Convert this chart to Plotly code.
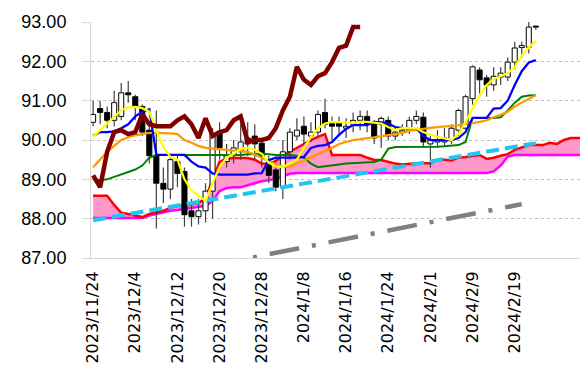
import plotly.graph_objects as go

# ---- tick labels (every 6th trading day) ----
tick_labels = ["2023/11/24", "2023/12/4", "2023/12/12", "2023/12/20", "2023/12/28",
               "2024/1/8", "2024/1/16", "2024/1/24", "2024/2/1", "2024/2/9", "2024/2/19"]
tick_step = 6

# ---- candles (trading day index 0..63) ----
open_ = [90.45, 90.80, 90.70, 90.50, 90.60, 91.20, 91.10, 90.85, 90.25, 89.60,
         88.90, 88.75, 89.45, 89.20, 88.20, 88.05, 88.20, 88.70, 90.20, 89.45,
         89.60, 89.70, 90.05, 90.10, 89.92, 89.44, 89.24, 88.80, 89.70, 90.10,
         90.35, 90.10, 90.20, 90.70, 90.45, 90.45, 90.30, 90.40, 90.50, 90.60,
         90.43, 90.40, 90.50, 90.10, 90.20, 90.25, 90.50, 90.58, 89.90, 89.95,
         89.95, 90.00, 90.25, 90.30, 91.05, 91.78, 91.58, 91.40, 91.60, 91.60,
         91.98, 92.35, 92.36, 92.88]
high = [91.00, 91.00, 90.85, 91.25, 91.45, 91.50, 91.15, 90.90, 90.35, 90.75,
        89.30, 89.65, 89.60, 89.30, 88.50, 88.50, 88.90, 90.30, 90.45, 89.90,
        90.00, 90.40, 90.45, 90.40, 90.00, 89.60, 89.40, 90.00, 90.30, 90.55,
        90.60, 90.45, 90.75, 91.05, 90.60, 90.60, 90.55, 90.70, 90.75, 90.75,
        90.50, 90.60, 90.60, 90.35, 90.40, 90.60, 90.75, 90.70, 90.10, 90.25,
        90.30, 90.40, 90.80, 91.15, 91.90, 91.85, 91.65, 91.85, 91.85, 92.10,
        92.50, 92.50, 93.00, 92.92]
low = [90.35, 90.40, 90.30, 90.35, 90.50, 90.95, 90.50, 90.10, 89.40, 87.75,
       88.40, 88.50, 88.80, 87.80, 87.80, 87.85, 87.90, 88.00, 89.50, 89.30,
       89.40, 89.50, 89.60, 89.50, 89.30, 88.90, 88.70, 88.50, 89.50, 90.00,
       89.90, 89.95, 90.10, 90.30, 90.00, 90.10, 90.05, 90.20, 90.25, 90.20,
       89.90, 89.80, 90.00, 90.00, 90.10, 90.15, 90.40, 89.80, 89.30, 89.80,
       89.85, 89.90, 90.10, 90.20, 90.90, 91.10, 91.10, 91.25, 91.40, 91.50,
       91.80, 92.10, 92.20, 92.80]
close = [90.65, 90.70, 90.50, 90.95, 91.20, 91.15, 90.85, 90.20, 89.60, 88.90,
         88.75, 89.50, 89.15, 88.10, 88.05, 88.20, 88.70, 90.15, 89.80, 89.60,
         89.80, 89.95, 89.90, 89.90, 89.57, 89.10, 88.80, 89.70, 90.20, 90.25,
         90.15, 90.20, 90.65, 90.40, 90.35, 90.35, 90.35, 90.50, 90.60, 90.40,
         90.05, 90.55, 90.10, 90.20, 90.25, 90.50, 90.60, 89.95, 90.00, 90.00,
         90.05, 90.30, 90.75, 91.10, 91.86, 91.53, 91.40, 91.62, 91.70, 91.98,
         92.34, 92.40, 92.87, 92.87]
chikou_shift = 25

# ---- indicator lines (per trading day) ----
ma_yellow = [90.08, 90.25, 90.42, 90.58, 90.76, 90.83, 90.84, 90.81, 90.72, 90.25,
             89.82, 89.57, 89.50, 89.00, 88.72, 88.58, 88.45, 88.90, 89.31, 89.55,
             89.65, 89.78, 89.80, 89.75, 89.65, 89.42, 89.33, 89.31, 89.40, 89.50,
             89.80, 90.08, 90.30, 90.42, 90.46, 90.46, 90.45, 90.43, 90.46, 90.46,
             90.44, 90.42, 90.33, 90.25, 90.30, 90.30, 90.30, 90.20, 90.13, 90.08,
             90.04, 90.00, 90.15, 90.45, 90.80, 91.14, 91.40, 91.55, 91.62, 91.70,
             91.85, 92.15, 92.35, 92.52]
tenkan_blue = [90.10, 90.20, 90.20, 90.22, 90.30, 90.40, 90.60, 90.72, 90.78, 89.62,
               89.62, 89.62, 89.62, 89.62, 89.45, 89.33, 89.30, 89.15, 89.12, 89.12,
               89.12, 89.12, 89.12, 89.15, 89.16, 89.49, 89.55, 89.55, 89.55, 89.55,
               89.57, 89.80, 89.85, 89.87, 89.95, 90.13, 90.28, 90.38, 90.38, 90.38,
               90.46, 90.45, 90.42, 90.33, 90.30, 90.30, 90.30, 90.10, 90.00, 90.00,
               90.00, 90.00, 90.05, 90.20, 90.56, 90.56, 90.56, 90.80, 90.81, 91.00,
               91.40, 91.75, 91.97, 92.03]
kijun_green = [89.00, 88.98, 89.00, 89.06, 89.12, 89.20, 89.25, 89.35, 89.55, 89.62,
               89.62, 89.62, 89.62, 89.62, 89.62, 89.62, 89.62, 89.62, 89.62, 89.62,
               89.62, 89.62, 89.64, 89.65, 89.65, 89.64, 89.62, 89.62, 89.62, 89.60,
               89.55, 89.40, 89.31, 89.33, 89.36, 89.38, 89.40, 89.41, 89.42, 89.44,
               89.44, 89.50, 89.78, 89.82, 89.82, 89.82, 89.82, 89.82, 89.82, 89.83,
               89.84, 89.85, 89.87, 89.95, 90.56, 90.56, 90.56, 90.56, 90.58, 90.75,
               90.95, 91.10, 91.13, 91.14]
ma_orange = [89.31, 89.50, 89.70, 89.85, 90.00, 90.07, 90.12, 90.15, 90.18, 90.18,
             90.18, 90.17, 90.15, 90.00, 89.93, 89.85, 89.80, 89.78, 89.77, 89.75,
             89.73, 89.72, 89.70, 89.63, 89.55, 89.45, 89.38, 89.32, 89.33, 89.40,
             89.48, 89.55, 89.62, 89.70, 89.80, 89.90, 89.96, 90.00, 90.02, 90.04,
             90.07, 90.10, 90.12, 90.15, 90.18, 90.23, 90.26, 90.29, 90.31, 90.33,
             90.34, 90.36, 90.38, 90.40, 90.43, 90.46, 90.50, 90.58, 90.64, 90.72,
             90.85, 90.95, 91.05, 91.14]

# ---- cloud (leading spans, run ahead of the candles) ----
span_a_red = [88.58, 88.58, 88.58, 88.35, 88.15, 88.12, 88.08, 88.04, 88.12, 88.16,
              88.20, 88.28, 88.32, 88.33, 88.36, 88.40, 88.52, 89.00, 89.45, 89.52,
              89.54, 89.54, 89.54, 89.50, 89.40, 89.38, 89.47, 89.60, 89.70, 89.82,
              89.92, 90.00, 90.08, 90.15, 89.62, 89.62, 89.62, 89.62, 89.62, 89.55,
              89.49, 89.49, 89.45, 89.40, 89.38, 89.40, 89.41, 89.41, 89.41, 89.50,
              89.50, 89.48, 89.55, 89.57, 89.60, 89.62, 89.52, 89.55, 89.60, 89.64,
              89.75, 89.82, 89.87, 89.87, 89.87, 89.93, 89.90, 90.00, 90.05, 90.05,
              90.05]
span_b_magenta = [88.02, 88.02, 88.02, 88.02, 88.02, 88.02, 88.02, 88.02, 88.08, 88.12,
                  88.16, 88.20, 88.22, 88.25, 88.27, 88.30, 88.33, 88.45, 88.70, 88.78,
                  88.80, 88.80, 88.85, 88.90, 88.95, 88.98, 89.02, 89.08, 89.14, 89.16,
                  89.16, 89.16, 89.16, 89.16, 89.16, 89.16, 89.16, 89.16, 89.16, 89.16,
                  89.16, 89.16, 89.16, 89.16, 89.16, 89.16, 89.16, 89.16, 89.16, 89.16,
                  89.16, 89.16, 89.16, 89.16, 89.16, 89.16, 89.16, 89.20, 89.35, 89.58,
                  89.62, 89.62, 89.62, 89.62, 89.62, 89.62, 89.62, 89.62, 89.62, 89.62,
                  89.62]

# ---- trend lines (two end points each) ----
trend_cyan_x = [0, 63]
trend_cyan_y = [87.96, 89.92]
trend_gray_x = [0, 61]
trend_gray_y = [86.21, 88.37]

n = len(close)
days = list(range(n))
cloud_days = list(range(len(span_a_red)))

fig = go.Figure()

# cloud on the base axis (drawn underneath)
fig.add_trace(go.Scatter(x=cloud_days, y=span_b_magenta, mode="lines",
                         line=dict(color="#FF00FF", width=2.5), hoverinfo="skip"))
fig.add_trace(go.Scatter(x=cloud_days, y=span_a_red, mode="lines", fill="tonexty",
                         fillcolor="#FF99CC", line=dict(color="#FF0000", width=2.5),
                         hoverinfo="skip"))

# candle bodies
body_base = [min(o, c) for o, c in zip(open_, close)]
body_h = [max(abs(c - o), 0.025) for o, c in zip(open_, close)]
body_col = ["white" if c >= o else "black" for o, c in zip(open_, close)]
fig.add_trace(go.Bar(x=days, y=body_h, base=body_base, width=0.72, yaxis="y2",
                     marker=dict(color=body_col, line=dict(color="black", width=1))))

# wicks (outside of the bodies)
wx, wy = [], []
for i, (o, h, l, c) in enumerate(zip(open_, high, low, close)):
    wx += [i, i, None, i, i, None]
    wy += [l, min(o, c), None, max(o, c), h, None]
fig.add_trace(go.Scatter(x=wx, y=wy, mode="lines", yaxis="y2",
                         line=dict(color="#404040", width=1.2), hoverinfo="skip"))

# trend lines
fig.add_trace(go.Scatter(x=trend_gray_x, y=trend_gray_y, mode="lines", yaxis="y2",
                         line=dict(color="#808080", width=4.5, dash="30px,13px,4px,13px")))
fig.add_trace(go.Scatter(x=trend_cyan_x, y=trend_cyan_y, mode="lines", yaxis="y2",
                         line=dict(color="#22C4F2", width=4, dash="13px,6px")))

# indicator lines
fig.add_trace(go.Scatter(x=days, y=kijun_green, mode="lines", yaxis="y2",
                         line=dict(color="#008000", width=2)))
fig.add_trace(go.Scatter(x=days, y=ma_orange, mode="lines", yaxis="y2",
                         line=dict(color="#FF9900", width=2.25)))
fig.add_trace(go.Scatter(x=days, y=tenkan_blue, mode="lines", yaxis="y2",
                         line=dict(color="#0000FF", width=2.25)))
fig.add_trace(go.Scatter(x=days, y=ma_yellow, mode="lines", yaxis="y2",
                         line=dict(color="#FFFF00", width=2.25)))

# lagging span: close shifted back
chikou_x = [d - chikou_shift for d in days[chikou_shift:]]
fig.add_trace(go.Scatter(x=chikou_x, y=close[chikou_shift:], mode="lines", yaxis="y2",
                         line=dict(color="#800000", width=4.5)))

tick_pos = [i * tick_step for i in range(len(tick_labels))]

# the page body adds 8px around the figure, so the figure is 8px smaller
fig.update_layout(
    width=580, height=371,
    margin=dict(l=83, r=3, t=14, b=121),
    plot_bgcolor="white", paper_bgcolor="white",
    showlegend=False,
    xaxis=dict(range=[-0.3, 70], tickmode="array", tickvals=tick_pos, ticktext=tick_labels,
               tickangle=-90, showgrid=False, zeroline=False, showline=True,
               linecolor="#d9d9d9", linewidth=1, ticks="", automargin=False,
               ticklabelstandoff=6,
               tickfont=dict(family="DejaVu Sans", size=16, color="black")),
    yaxis=dict(range=[87, 93], dtick=1, tickformat=".2f", showgrid=True,
               gridcolor="#bfbfbf", griddash="dot", gridwidth=1, zeroline=False,
               showline=True, linecolor="#d9d9d9", linewidth=1,
               ticks="outside", ticklen=8, tickcolor="#d9d9d9", automargin=False,
               ticklabelstandoff=12,
               tickfont=dict(family="Liberation Sans", size=18, color="black")),
    yaxis2=dict(range=[87, 93], overlaying="y", visible=False),
)

fig.write_html("out.html")
